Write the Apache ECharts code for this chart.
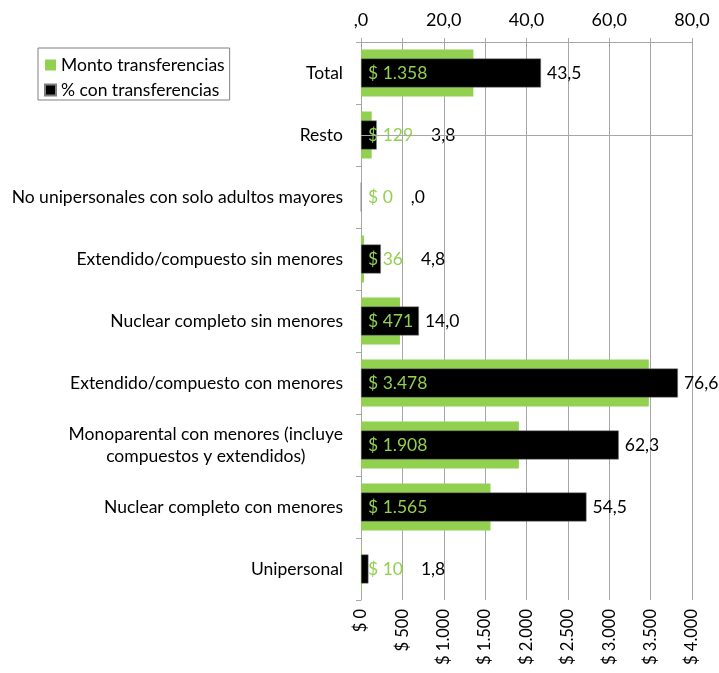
<!DOCTYPE html>
<html>
<head>
<meta charset="utf-8">
<script src="https://cdn.jsdelivr.net/npm/echarts@6/dist/echarts.min.js"></script>
<style>
  html, body { margin: 0; padding: 0; background: #fff; }
  #chart { width: 719px; height: 673px; }
</style>
</head>
<body>
<div id="chart"></div>
<script>
// categorias de arriba hacia abajo
const categories = [
  'Total',
  'Resto',
  'No unipersonales con solo adultos mayores',
  'Extendido/compuesto sin menores',
  'Nuclear completo sin menores',
  'Extendido/compuesto con menores',
  'Monoparental con menores (incluye\ncompuestos y extendidos)',
  'Nuclear completo con menores',
  'Unipersonal'
]
const montoValues = [1358, 129, 0, 36, 471, 3478, 1908, 1565, 10]
const pctValues = [43.5, 3.8, 0, 4.8, 14.0, 76.6, 62.3, 54.5, 1.8]
const pctTicks = [0, 20, 40, 60, 80]

const FONT = 'Lato'
const GREEN = '#92D050'
const GRID_GREY = '#a6a6a6'
const GRID_LEFT = 361
const GREEN_LABEL_SIZE = 17.5

function fmtPct(v) {
  if (v === 0) return ',0'
  return v.toFixed(1).replace('.', ',')
}
function fmtMoney(v) {
  return '$ ' + String(v).replace(/\B(?=(\d{3})+(?!\d))/g, '.')
}

// para que la etiqueta del % no pise la etiqueta verde
const measureCtx = document.createElement('canvas').getContext('2d')
function textWidth(text, size) {
  measureCtx.font = size + 'px ' + FONT
  return measureCtx.measureText(text).width
}

const chart = echarts.init(document.getElementById('chart'))
const options = {
  animation: false,
  textStyle: { fontFamily: FONT },
  legend: {
    orient: 'vertical',
    left: 38,
    top: 48,
    padding: [8, 5, 1, 6],
    itemGap: 7,
    itemWidth: 11,
    itemHeight: 11,
    icon: 'rect',
    borderColor: '#808080',
    borderWidth: 1,
    textStyle: { fontFamily: FONT, fontSize: 17.5, lineHeight: 12, color: '#000' },
    data: ['Monto transferencias', '% con transferencias']
  },
  grid: {
    left: GRID_LEFT,
    right: 27,
    top: 42,
    bottom: 73
  },
  xAxis: [
    {
      type: 'value',
      position: 'top',
      min: 0,
      max: 80,
      interval: 10,
      axisLine: { show: true, lineStyle: { color: GRID_GREY } },
      axisTick: { show: true, length: 4, lineStyle: { color: GRID_GREY } },
      splitLine: { show: false },
      axisLabel: {
        margin: 13,
        fontSize: 18,
        color: '#000',
        formatter: v => (pctTicks.indexOf(v) >= 0 ? fmtPct(v) : '')
      }
    },
    {
      type: 'value',
      position: 'bottom',
      min: 0,
      max: 4000,
      interval: 500,
      axisLine: { show: false },
      axisTick: { show: false },
      splitLine: { show: true, lineStyle: { color: GRID_GREY } },
      axisLabel: {
        rotate: 90,
        margin: 9,
        fontSize: 16.5,
        color: '#000',
        formatter: v => fmtMoney(v)
      }
    }
  ],
  yAxis: [
    {
      type: 'category',
      inverse: true,
      data: categories,
      axisLine: { show: true, lineStyle: { color: GRID_GREY } },
      axisTick: { show: true, length: 5, lineStyle: { color: GRID_GREY } },
      axisLabel: {
        margin: 18,
        fontSize: 17.5,
        color: '#000',
        lineHeight: 22,
        formatter: v => v.split('\n').map(l => '{c|' + l + '}').join('\n'),
        rich: { c: { align: 'center', fontSize: 17.5, fontFamily: FONT, color: '#000', lineHeight: 22 } }
      }
    },
    {
      type: 'category',
      inverse: true,
      show: false,
      data: categories
    }
  ],
  series: [
    {
      name: 'Monto transferencias',
      type: 'bar',
      xAxisIndex: 1,
      yAxisIndex: 0,
      barWidth: 47,
      itemStyle: { color: GREEN },
      data: montoValues,
      label: {
        show: true,
        position: 'insideLeft',
        distance: 7,
        color: GREEN,
        fontSize: GREEN_LABEL_SIZE,
        fontFamily: FONT,
        formatter: p => fmtMoney(p.value)
      }
    },
    {
      name: '% con transferencias',
      type: 'bar',
      xAxisIndex: 0,
      yAxisIndex: 1,
      barWidth: 29,
      itemStyle: { color: '#000', borderColor: '#7f7f7f', borderWidth: 0.5 },
      data: pctValues,
      label: {
        show: true,
        position: 'right',
        distance: 6,
        color: '#000',
        fontSize: 17.5,
        fontFamily: FONT,
        formatter: p => fmtPct(p.value)
      },
      labelLayout: function (params) {
        const i = params.dataIndex
        const greenEnd = GRID_LEFT + 7 + textWidth(fmtMoney(montoValues[i]), GREEN_LABEL_SIZE)
        const barEnd = params.rect.x + params.rect.width
        if (barEnd < greenEnd) {
          return {
            x: greenEnd + 18,
            y: params.rect.y + params.rect.height / 2,
            align: 'left',
            verticalAlign: 'middle'
          }
        }
        return {}
      },
      markLine: {
        silent: true,
        symbol: 'none',
        label: { show: false },
        lineStyle: { color: GRID_GREY, type: 'solid', width: 1 },
        data: [{ yAxis: 0.5 }]
      }
    }
  ]
}
chart.setOption(options)
</script>
</body>
</html>
